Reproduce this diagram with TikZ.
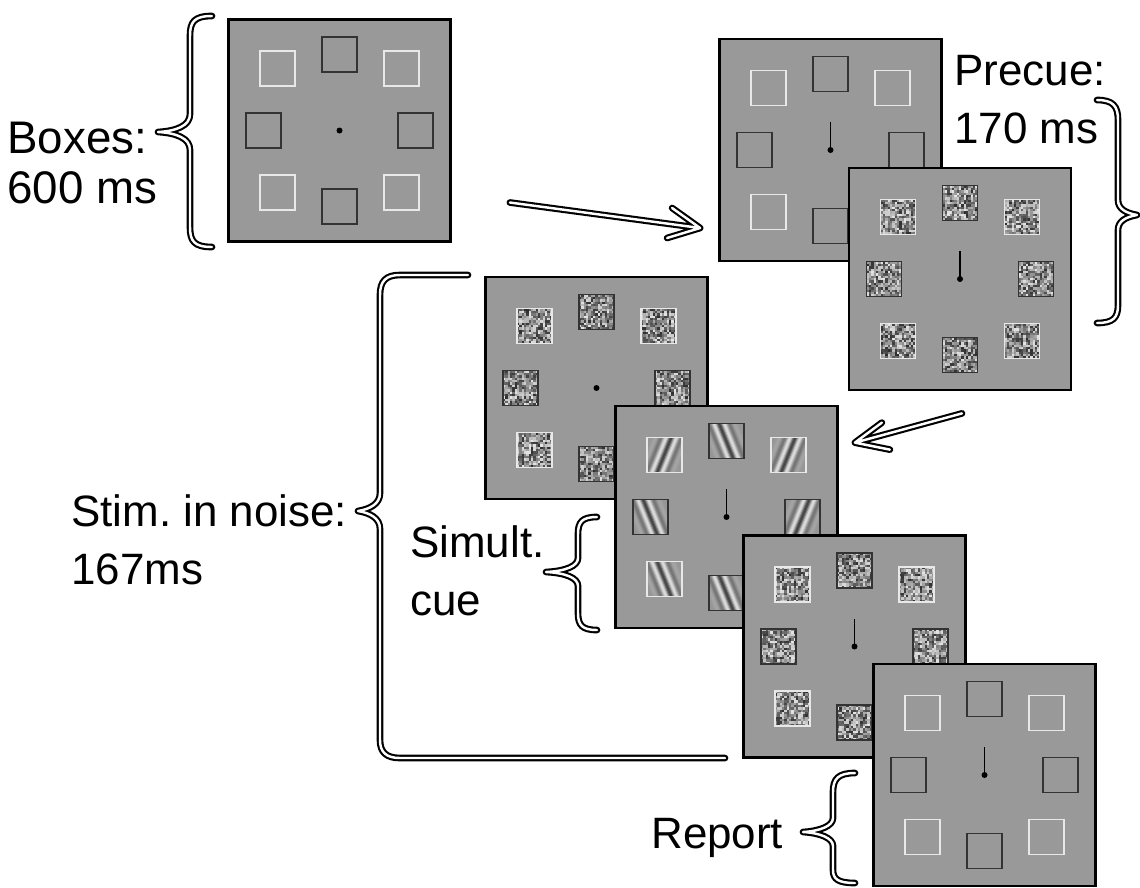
\documentclass[tikz,border=0pt]{standalone}
\usepackage{fontspec}
\setmainfont{Liberation Sans}
\usepackage{xcolor}
\definecolor{panelgray}{HTML}{999999}
\definecolor{rimlight}{HTML}{E8E8E8}
\definecolor{rimdark}{HTML}{333333}

% eight placeholder positions round the fixation point (offsets in px)
\newcommand{\boxring}[1]{%
  \foreach \dx/\dy/\rim in {-62/-62/litebox,0/-76/darkbox,62/-62/litebox,-76/0/darkbox,
                            76/0/darkbox,-62/62/litebox,0/76/darkbox,62/62/litebox}
    \draw[\rim] ([shift={(\dx-17.5,\dy-17.5)}]#1.center) rectangle ++(35,35);
}
\newcommand{\noisering}[1]{%
  \foreach \dx/\dy/\rim in {-62/-62/litebox,0/-76/darkbox,62/-62/litebox,-76/0/darkbox,
                            76/0/darkbox,-62/62/litebox,0/76/darkbox,62/62/litebox}{
    \coordinate (nc) at ([shift={(\dx,\dy)}]#1.center);
    \begin{scope}[shift={(nc)}]
      \foreach \i in {0,...,14}
        \foreach \j in {0,...,14}{
          \pgfmathsetmacro\g{10+72*rnd}
          \fill[black!\g] (\i*2.3333-17.5,\j*2.3333-17.5) rectangle ++(2.4,2.4);
        }
      \draw[\rim] (-17.5,-17.5) rectangle (17.5,17.5);
    \end{scope}
  }
}
\newcommand{\gaborring}[1]{%
  \foreach \dx/\dy/\rim/\tilt in {-62/-62/litebox/-22,0/-76/darkbox/22,62/-62/litebox/-22,
                                  -76/0/darkbox/22,76/0/darkbox/-22,-62/62/litebox/22,
                                  0/76/darkbox/22,62/62/litebox/-22}{
    \coordinate (gc) at ([shift={(\dx,\dy)}]#1.center);
    \begin{scope}[shift={(gc)}]
      \begin{scope}
        \clip (-17.5,-17.5) rectangle (17.5,17.5);
        \foreach \u in {-26,...,26}{
          \pgfmathsetmacro\g{40+34*cos(\u*36)*exp(-(\u)*(\u)/110)}
          \draw[black!\g, line width=0.8pt, rotate=\tilt] (\u,-30) -- (\u,30);
        }
      \end{scope}
      \draw[\rim] (-17.5,-17.5) rectangle (17.5,17.5);
    \end{scope}
  }
}

\begin{document}
\begin{tikzpicture}[
  x=0.02cm, y=-0.02cm,
  panel/.style={
    draw=black,
    fill=panelgray,
    line width=1.6pt,
    minimum size=4.44cm,
    inner sep=0pt
  },
  litebox/.style={draw=rimlight, line width=0.8pt},
  darkbox/.style={draw=rimdark, line width=0.8pt},
  cueline/.style={line width=0.9pt},
  dblline/.style={
    double,
    double distance=1.4pt,
    line width=1.2pt,
    line cap=round,
    line join=round
  },
  phaselabel/.style={
    font=\fontsize{25}{33}\selectfont\frenchspacing,
    align=left,
    inner sep=0pt,
    anchor=base west
  }
]
  \useasboundingbox (0,0) rectangle (1140,887);
  \pgfmathsetseed{11}

  % ----------------------------------------------------
  % BOXES
  % ----------------------------------------------------
  \node[panel] (boxes) at (339.5,130.5) {};
  \boxring{boxes}
  \fill (boxes.center) circle[radius=3];

  % (base anchor sits on the last line)
  \node[phaselabel, font=\fontsize{26}{28}\selectfont] (boxeslbl) at (7,203) {Boxes:\\600 ms};
  \draw[dblline] (212,16) .. controls (194,16) and (190,22) .. (190,36) -- (190,114)
    .. controls (190,126) and (176,131) .. (158,132) .. controls (176,133) and (190,138) .. (190,150)
    -- (190,227) .. controls (190,241) and (194,247) .. (212,247);

  % ----------------------------------------------------
  % PRECUE
  % ----------------------------------------------------
  \node[panel] (precue) at (830.5,150) {};
  \boxring{precue}
  \draw[cueline] (precue.center) -- ++(0,-28);
  \fill (precue.center) circle[radius=3];

  \node[panel] (precuenoise) at ([shift={(129.5,129)}]precue.center) {};
  \noisering{precuenoise}
  \draw[cueline] (precuenoise.center) -- ++(0,-28);
  \fill (precuenoise.center) circle[radius=3];

  \node[phaselabel] (precuelbl) at (954,143) {Precue:\\170 ms};
  \draw[dblline] (1097,100) .. controls (1113,100) and (1118,106) .. (1118,120) -- (1118,200)
    .. controls (1118,209) and (1126,213) .. (1137,215) .. controls (1126,217) and (1118,221) .. (1118,230)
    -- (1118,305) .. controls (1118,318) and (1113,323) .. (1097,323);

  % Boxes -> Precue
  \coordinate (startA) at ([shift={(58,72)}]boxes.east);
  \coordinate (tipA) at ([shift={(-18,78)}]precue.west);
  \draw[dblline] (startA) -- (tipA) -- ++(-28,-20) (tipA) -- ++(-33,10);

  % ----------------------------------------------------
  % STIMULUS IN NOISE
  % ----------------------------------------------------
  \node[panel] (stimnoise) at (596.5,388) {};
  \noisering{stimnoise}
  \fill (stimnoise.center) circle[radius=3];

  \node[panel] (stim) at ([shift={(130,129)}]stimnoise.center) {};
  \gaborring{stim}
  \draw[cueline] (stim.center) -- ++(0,-28);
  \fill (stim.center) circle[radius=3];

  \node[panel] (postnoise) at ([shift={(128,129.5)}]stim.center) {};
  \noisering{postnoise}
  \draw[cueline] (postnoise.center) -- ++(0,-28);
  \fill (postnoise.center) circle[radius=3];

  % Precue -> Stimulus
  \coordinate (startB) at ([shift={(2,22)}]precuenoise.south);
  \coordinate (tipB) at ([shift={(16,38)}]stim.north east);
  \draw[dblline] (startB) -- (tipB) -- ++(27,-20) (tipB) -- ++(35,7);

  \node[phaselabel] (stimlbl) at (71,584) {Stim. in noise:\\167ms};
  \draw[dblline] (468,275) -- (400,275) .. controls (386,275) and (380,281) .. (380,295) -- (380,493)
    .. controls (380,504) and (370,509) .. (358,511) .. controls (370,513) and (380,518) .. (380,529)
    -- (380,740) .. controls (380,752) and (386,758) .. (400,758) -- (725,758);

  \node[phaselabel] (cuelbl) at (410,615) {Simult.\\cue};
  \draw[dblline] (597,517) .. controls (582,517) and (578,522) .. (578,534) -- (578,558)
    .. controls (578,566) and (566,571) .. (546,572) .. controls (566,573) and (578,578) .. (578,586)
    -- (578,613) .. controls (578,625) and (582,630) .. (597,630);

  % ----------------------------------------------------
  % REPORT
  % ----------------------------------------------------
  \node[panel] (report) at ([shift={(130,128.5)}]postnoise.center) {};
  \boxring{report}
  \draw[cueline] (report.center) -- ++(0,-28);
  \fill (report.center) circle[radius=3];

  \node[phaselabel] (reportlbl) at (651,848) {Report};
  \draw[dblline] (855,773) .. controls (838,773) and (833,779) .. (833,792) -- (833,818)
    .. controls (833,826) and (820,831) .. (803,832) .. controls (820,833) and (833,838) .. (833,846)
    -- (833,870) .. controls (833,879) and (838,883) .. (855,883);

\end{tikzpicture}
\end{document}
